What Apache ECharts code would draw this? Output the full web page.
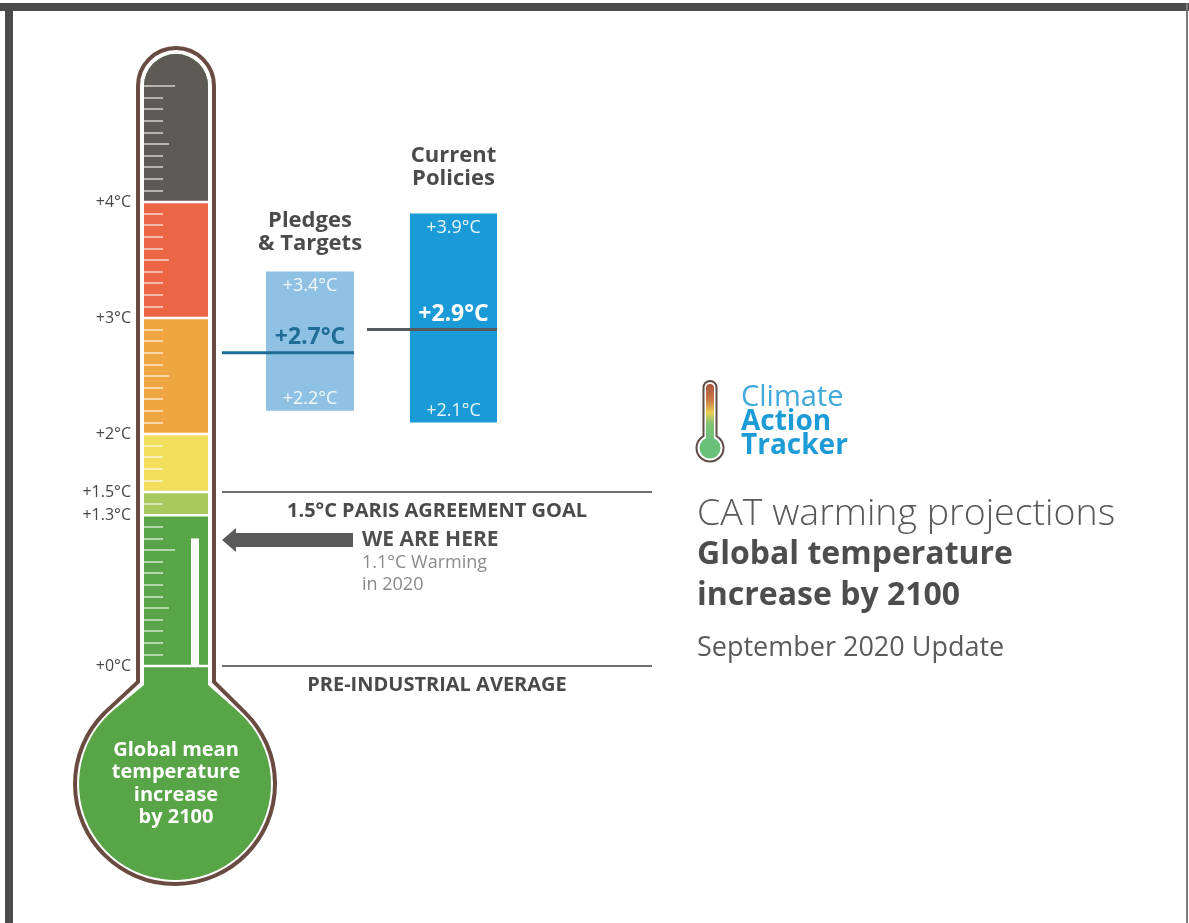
<!DOCTYPE html>
<html>
<head>
<meta charset="utf-8">
<script src="https://cdn.jsdelivr.net/npm/echarts@6/dist/echarts.min.js"></script>
<style>
  html, body { margin: 0; padding: 0; background: #ffffff; }
  #chart { width: 1189px; height: 923px; }
</style>
</head>
<body>
<div id="chart"></div>
<script>
// ---- Thermometer scale (°C) ----
const bandStarts = [0, 1.3, 1.5, 2, 3, 4];
const bandEnds   = [1.3, 1.5, 2, 3, 4, 5];     // the top band closes with the rounded cap
const bandColors = ['#58a547', '#a8c95d', '#f1de5a', '#efa640', '#ec6544', '#5e5a58'];
const scaleLabels = [0, 1.3, 1.5, 2, 3, 4];
const shortTicks = [0.1, 0.2, 0.3, 0.4, 0.6, 0.7, 0.8, 0.9, 1.1, 1.2, 1.4,
                    1.6, 1.7, 1.8, 1.9, 2.1, 2.2, 2.3, 2.4, 2.6, 2.7, 2.8, 2.9,
                    3.1, 3.2, 3.3, 3.4, 3.6, 3.7, 3.8, 3.9,
                    4.1, 4.2, 4.3, 4.4, 4.6, 4.7, 4.8, 4.9];
const mediumTicks = [0.5, 2.5, 3.5, 4.5];
const longTicks = [1, 5];

// ---- Warming projections by 2100 (°C) ----
const scenarios        = ['Pledges\n& Targets', 'Current\nPolicies'];
const lowEstimates     = [2.2, 2.1];
const centralEstimates = [2.7, 2.9];
const highEstimates    = [3.4, 3.9];

// ---- Observed warming and reference levels ----
const currentWarming = 1.1;
const currentYear = 2020;
const referenceLevels = [1.5, 0];
const referenceNames = ['1.5°C PARIS AGREEMENT GOAL', 'PRE-INDUSTRIAL AVERAGE'];

const FONT = "'Open Sans', 'Noto Sans', sans-serif";
const Y_MIN = 0, Y_MAX = 5.5;
const GRID_TOP = 28, GRID_BOTTOM = 257;
const fmt = v => '+' + v + '°C';
const fmt1 = v => '+' + v.toFixed(1) + '°C';

// Point where a line from (px,py) touches the bulb circle, on the given side
function tangentPoint(px, py, bx, by, r, side) {
  const dx = px - bx, dy = py - by, d = Math.hypot(dx, dy);
  const base = Math.atan2(dy, dx), off = Math.acos(Math.min(1, r / d));
  const p1 = [bx + r * Math.cos(base + off), by + r * Math.sin(base + off)];
  const p2 = [bx + r * Math.cos(base - off), by + r * Math.sin(base - off)];
  return side < 0 ? (p1[0] < p2[0] ? p1 : p2) : (p1[0] > p2[0] ? p1 : p2);
}
// Tube with rounded cap, shoulders and round bulb
function thermoPath(cx, hw, capY, neckY, bx, by, r) {
  const L = cx - hw, R = cx + hw;
  const tl = tangentPoint(L, neckY, bx, by, r, -1);
  const tr = tangentPoint(R, neckY, bx, by, r, 1);
  return 'M' + tl[0] + ' ' + tl[1] + ' L' + L + ' ' + neckY + ' L' + L + ' ' + capY +
         ' A' + hw + ' ' + hw + ' 0 0 1 ' + R + ' ' + capY + ' L' + R + ' ' + neckY +
         ' L' + tr[0] + ' ' + tr[1] + ' A' + r + ' ' + r + ' 0 1 1 ' + tl[0] + ' ' + tl[1] + ' Z';
}

function renderFrame(params, api) {
  const cs = params.coordSys;
  const cx = cs.x + cs.width / 2, hw = cs.width / 2;
  const y0 = api.coord([0, 0])[1];
  const capY = api.coord([0, 5])[1];
  const bx = cx - 1, by = y0 + 118;
  return {
    type: 'group',
    children: [
      { type: 'path', shape: { pathData: thermoPath(cx, hw + 6, capY, y0 + 16, bx, by, 100) },
        style: { fill: '#ffffff', stroke: '#6a4b41', lineWidth: 4 } },
      { type: 'path', shape: { pathData: thermoPath(cx, hw, capY, y0 + 19, bx, by, 96) },
        style: { fill: '#58a547' } },
      { type: 'text', x: bx + 1, y: by,
        style: { text: 'Global mean\ntemperature\nincrease\nby 2100', fill: '#ffffff',
                 fontFamily: FONT, fontWeight: 'bold', fontSize: 20, lineHeight: 22.5,
                 align: 'center', verticalAlign: 'middle' } }
    ]
  };
}

function renderBand(params, api) {
  const cs = params.coordSys;
  const yLo = api.coord([0, api.value(1)])[1];
  const yHi = api.coord([0, api.value(2)])[1];
  const color = bandColors[params.dataIndex];
  const L = cs.x, R = cs.x + cs.width, hw = cs.width / 2;
  const children = [];
  if (params.dataIndex === bandStarts.length - 1) {
    children.push({ type: 'path',
      shape: { pathData: 'M' + L + ' ' + yLo + ' L' + L + ' ' + yHi + ' A' + hw + ' ' + hw +
               ' 0 0 1 ' + R + ' ' + yHi + ' L' + R + ' ' + yLo + ' Z' },
      style: { fill: color } });
  } else {
    children.push({ type: 'rect', shape: { x: L, y: yHi, width: cs.width, height: yLo - yHi },
      style: { fill: color } });
  }
  children.push({ type: 'rect', shape: { x: L, y: yLo - 1.25, width: cs.width, height: 2.5 },
    style: { fill: '#ffffff' } });
  return { type: 'group', children: children };
}

function renderLevel(params, api) {
  const cs = params.coordSys;
  const yTop = api.coord([0, api.value(1)])[1];
  const y0 = api.coord([0, 0])[1];
  return { type: 'rect', shape: { x: cs.x + 47, y: yTop, width: 8, height: y0 - yTop },
           style: { fill: '#ffffff' } };
}

const rangeStyles = [
  { fill: '#8ec1e4', line: '#1f6d97', mid: '#1f6d97', lead: 44, headerGap: 16 },
  { fill: '#1a9ad7', line: '#565a5d', mid: '#ffffff', lead: 43, headerGap: 23 }
];
function makeRangeRenderer(k) {
  return function (params, api) {
    const cs = params.coordSys, st = rangeStyles[k];
    const lo = api.value(1), mid = api.value(2), hi = api.value(3);
    const yLo = api.coord([0, lo])[1], yMid = api.coord([0, mid])[1], yHi = api.coord([0, hi])[1];
    const cx = cs.x + cs.width / 2;
    const txt = (text, y, size, weight, fill, va) => ({
      type: 'text', x: cx, y: y,
      style: { text: text, fill: fill, fontFamily: FONT, fontSize: size, fontWeight: weight,
               lineHeight: 23, align: 'center', verticalAlign: va || 'middle' } });
    return {
      type: 'group',
      children: [
        { type: 'rect', shape: { x: cs.x, y: yHi, width: cs.width, height: yLo - yHi },
          style: { fill: st.fill } },
        { type: 'line', shape: { x1: cs.x - st.lead, y1: yMid, x2: cs.x + cs.width, y2: yMid },
          style: { stroke: st.line, lineWidth: 3 } },
        txt(fmt1(hi), yHi + 14, 18, 'normal', 'rgba(255,255,255,0.9)'),
        txt(fmt1(lo), yLo - 12, 18, 'normal', 'rgba(255,255,255,0.9)'),
        txt(fmt1(mid), yMid - 15, 23, 'bold', st.mid),
        txt(scenarios[k], yHi - st.headerGap, 22, 'bold', '#4b4b4b', 'bottom')
      ]
    };
  };
}

function renderArrow(params, api) {
  const cs = params.coordSys;
  const v = api.value(1);
  const y = api.coord([0, v])[1] + 1.5;
  const tip = cs.x, head = tip + 14, end = tip + 131;
  const tx = tip + 140;
  return {
    type: 'group',
    children: [
      { type: 'polygon',
        shape: { points: [[tip, y], [head, y - 12], [head, y - 7], [end, y - 7],
                          [end, y + 7], [head, y + 7], [head, y + 12]] },
        style: { fill: '#5a5a5a' } },
      { type: 'text', x: tx, y: y, style: { text: 'WE ARE HERE', fill: '#4f4f4f', fontFamily: FONT,
          fontSize: 21, fontWeight: 'bold', align: 'left', verticalAlign: 'middle' } },
      { type: 'text', x: tx, y: y + 12, style: { text: v.toFixed(1) + '°C Warming\nin ' + currentYear,
          fill: '#8a8a8a', fontFamily: FONT, fontSize: 18, lineHeight: 22,
          align: 'left', verticalAlign: 'top' } }
    ]
  };
}

const grids = [
  { left: 144, width: 64, top: GRID_TOP, bottom: GRID_BOTTOM },   // thermometer tube
  { left: 266, width: 88, top: GRID_TOP, bottom: GRID_BOTTOM },   // pledges & targets
  { left: 410, width: 87, top: GRID_TOP, bottom: GRID_BOTTOM },   // current policies
  { left: 222, width: 430, top: GRID_TOP, bottom: GRID_BOTTOM }   // reference levels
];

const hiddenY = idx => ({ type: 'value', gridIndex: idx, min: Y_MIN, max: Y_MAX, show: false });
const tickAxis = (values, len) => ({
  type: 'value', gridIndex: 0, min: Y_MIN, max: Y_MAX, position: 'left', z: 10,
  axisLine: { show: false }, splitLine: { show: false }, axisLabel: { show: false },
  axisTick: { show: true, inside: true, length: len, customValues: values,
              lineStyle: { color: 'rgba(255,255,255,0.55)', width: 2 } }
});

const FRAME = '#4b4b4b';
const option = {
  animation: false,
  backgroundColor: '#ffffff',
  grid: grids,
  xAxis: [
    { type: 'category', gridIndex: 0, data: ['Thermometer'], show: false },
    { type: 'category', gridIndex: 1, data: [scenarios[0]], show: false },
    { type: 'category', gridIndex: 2, data: [scenarios[1]], show: false },
    { type: 'category', gridIndex: 3, data: ['Levels'], show: false }
  ],
  yAxis: [
    { type: 'value', gridIndex: 0, min: Y_MIN, max: Y_MAX, position: 'left',
      axisLine: { show: false }, splitLine: { show: false }, axisTick: { show: false },
      axisLabel: { customValues: scaleLabels, formatter: fmt, margin: 13,
                   color: '#474747', fontSize: 16, fontFamily: FONT } },
    tickAxis(shortTicks, 19),
    tickAxis(mediumTicks, 25),
    tickAxis(longTicks, 31),
    hiddenY(1), hiddenY(2), hiddenY(3)
  ],
  series: [
    { type: 'custom', name: 'frame', xAxisIndex: 0, yAxisIndex: 0, z: 1, clip: false,
      data: [[0, 0]], encode: { x: 0, y: 1 }, renderItem: renderFrame, silent: true },
    { type: 'custom', name: 'bands', xAxisIndex: 0, yAxisIndex: 0, z: 2, clip: false,
      data: bandStarts.map((s, i) => [0, s, bandEnds[i]]), encode: { x: 0, y: [1, 2] },
      renderItem: renderBand },
    { type: 'custom', name: 'level', xAxisIndex: 0, yAxisIndex: 0, z: 3,
      data: [[0, currentWarming]], encode: { x: 0, y: 1 }, renderItem: renderLevel },
    { type: 'custom', name: scenarios[0], xAxisIndex: 1, yAxisIndex: 4, z: 2, clip: false,
      data: [[0, lowEstimates[0], centralEstimates[0], highEstimates[0]]],
      encode: { x: 0, y: [1, 2, 3] }, renderItem: makeRangeRenderer(0) },
    { type: 'custom', name: scenarios[1], xAxisIndex: 2, yAxisIndex: 5, z: 2, clip: false,
      data: [[0, lowEstimates[1], centralEstimates[1], highEstimates[1]]],
      encode: { x: 0, y: [1, 2, 3] }, renderItem: makeRangeRenderer(1) },
    { type: 'custom', name: 'We are here', xAxisIndex: 3, yAxisIndex: 6, z: 2, clip: false,
      data: [[0, currentWarming]], encode: { x: 0, y: 1 }, renderItem: renderArrow,
      markLine: {
        silent: true, symbol: 'none',
        lineStyle: { color: '#6f6f6f', width: 2, type: 'solid' },
        label: { position: 'insideMiddleBottom', distance: 9, formatter: '{b}',
                 color: '#4a4a4a', fontFamily: FONT, fontSize: 20, fontWeight: 'bold' },
        data: referenceLevels.map((v, i) => ({ yAxis: v, name: referenceNames[i] }))
      } }
  ],
  graphic: [
    // page frame
    { type: 'rect', shape: { x: 0, y: 3, width: 1189, height: 8 }, style: { fill: FRAME } },
    { type: 'rect', shape: { x: 5, y: 3, width: 8, height: 920 }, style: { fill: FRAME } },
    { type: 'rect', shape: { x: 1186, y: 3, width: 2, height: 920 }, style: { fill: '#7c7c7c' } },
    // logo mark: outlined thermometer
    { type: 'rect', shape: { x: 702.5, y: 380, width: 15, height: 66, r: 7.5 }, style: { fill: '#5b4b45' } },
    { type: 'circle', shape: { cx: 710, cy: 448, r: 14.5 }, style: { fill: '#5b4b45' } },
    { type: 'rect', shape: { x: 704.5, y: 382, width: 11, height: 64, r: 5.5 }, style: { fill: '#ffffff' } },
    { type: 'circle', shape: { cx: 710, cy: 448, r: 12.5 }, style: { fill: '#ffffff' } },
    { type: 'rect', shape: { x: 706, y: 384, width: 8, height: 64, r: 4 },
      style: { fill: { type: 'linear', x: 0, y: 0, x2: 0, y2: 1, colorStops: [
        { offset: 0, color: '#a9523f' }, { offset: 0.25, color: '#cd7a47' },
        { offset: 0.45, color: '#e8cd55' }, { offset: 0.62, color: '#7fc475' },
        { offset: 1, color: '#68c07a' } ] } } },
    { type: 'circle', shape: { cx: 710, cy: 448, r: 10.5 }, style: { fill: '#68c07a' } },
    { type: 'text', x: 741, y: 398, style: { text: 'Climate', fill: '#3ea9da', fontFamily: FONT,
        fontSize: 29, align: 'left', verticalAlign: 'middle' } },
    { type: 'text', x: 741, y: 422, style: { text: 'Action', fill: '#1d9bd7', fontFamily: FONT,
        fontSize: 28, fontWeight: 'bold', align: 'left', verticalAlign: 'middle' } },
    { type: 'text', x: 741, y: 446, style: { text: 'Tracker', fill: '#1d9bd7', fontFamily: FONT,
        fontSize: 28, fontWeight: 'bold', align: 'left', verticalAlign: 'middle' } },
    // headline block
    { type: 'text', x: 697, y: 514, style: { text: 'CAT warming projections', fill: '#575757',
        fontFamily: FONT, fontSize: 37.5, fontWeight: 300, align: 'left', verticalAlign: 'middle' } },
    { type: 'text', x: 697, y: 555, style: { text: 'Global temperature', fill: '#4d4d4d',
        fontFamily: FONT, fontSize: 32, fontWeight: 'bold', align: 'left', verticalAlign: 'middle' } },
    { type: 'text', x: 697, y: 596, style: { text: 'increase by 2100', fill: '#4d4d4d',
        fontFamily: FONT, fontSize: 32, fontWeight: 'bold', align: 'left', verticalAlign: 'middle' } },
    { type: 'text', x: 697, y: 648, style: { text: 'September 2020 Update', fill: '#5a5a5a',
        fontFamily: FONT, fontSize: 27, align: 'left', verticalAlign: 'middle' } }
  ]
};

const chart = echarts.init(document.getElementById('chart'), null, { renderer: 'canvas' });
chart.setOption(option);
</script>
</body>
</html>
